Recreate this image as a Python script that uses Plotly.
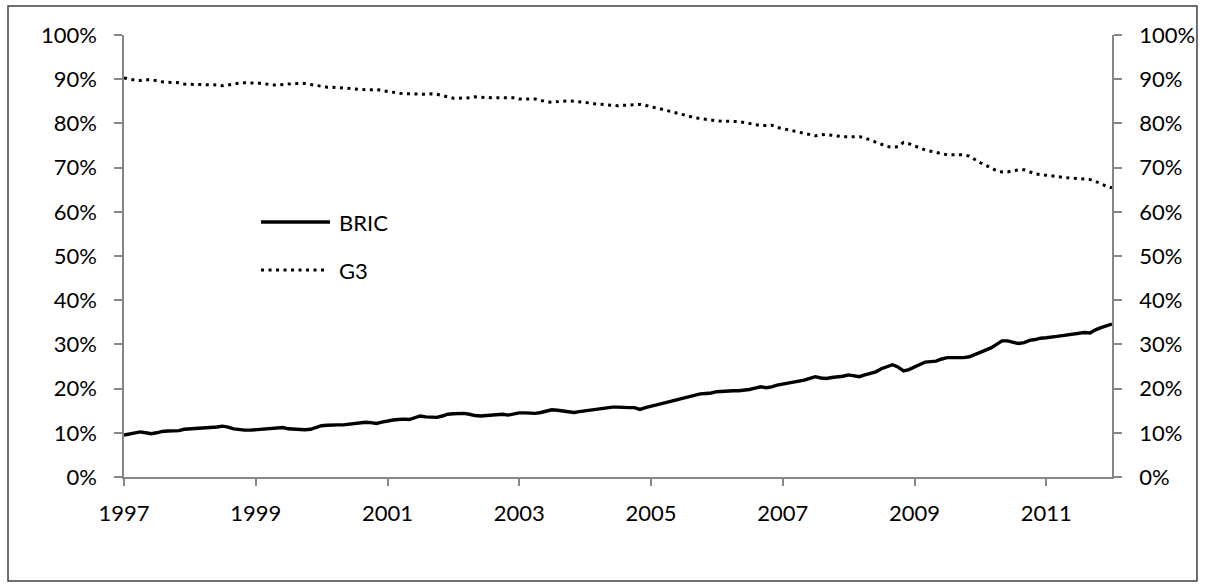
import pandas as pd
import plotly.graph_objects as go

# Monthly observations, Jan 1997 .. Jan 2012 (share of total, %)
start_month = "1997-01-01"
n_months = 181

bric = [
    9.5, 9.8, 10.0, 10.2, 10.0, 9.8, 10.0, 10.3, 10.4, 10.4, 10.5, 10.8,
    10.9, 10.85, 10.9, 11.0, 11.1, 11.3, 11.5, 11.3, 10.9, 10.7, 10.6, 10.6,
    10.7, 10.8, 10.9, 11.0, 11.1, 11.2, 10.9, 10.8, 10.7, 10.7, 10.8, 11.2,
    11.6, 11.7, 11.8, 11.8, 11.8, 12.0, 12.1, 12.3, 12.4, 12.3, 12.1, 12.4,
    12.7, 12.9, 13.0, 13.1, 13.0, 13.5, 13.8, 13.6, 13.5, 13.5, 13.8, 14.2,
    14.3, 14.3, 14.4, 14.2, 13.9, 13.8, 13.9, 14.1, 14.2, 14.2, 14.0, 14.2,
    14.5, 14.5, 14.4, 14.4, 14.6, 14.9, 15.2, 15.1, 14.9, 14.8, 14.6, 14.8,
    15.0, 15.2, 15.4, 15.5, 15.7, 15.8, 15.8, 15.7, 15.7, 15.7, 15.3, 15.7,
    16.1, 16.3, 16.6, 16.9, 17.2, 17.6, 17.9, 18.1, 18.5, 18.8, 18.9, 19.0,
    19.3, 19.4, 19.5, 19.5, 19.5, 19.6, 19.8, 20.1, 20.4, 20.2, 20.4, 20.8,
    21.0, 21.3, 21.4, 21.6, 21.9, 22.3, 22.7, 22.4, 22.3, 22.5, 22.6, 22.8,
    23.1, 22.9, 22.7, 23.1, 23.5, 23.8, 24.5, 25.0, 25.4, 24.9, 24.0, 24.3,
    24.9, 25.5, 26.0, 26.1, 26.2, 26.7, 27.0, 27.0, 27.0, 27.0, 27.2, 27.7,
    28.3, 28.8, 29.2, 30.0, 30.8, 30.8, 30.5, 30.2, 30.4, 30.9, 31.1, 31.4,
    31.5, 31.6, 31.8, 32.0, 32.2, 32.4, 32.5, 32.7, 32.6, 33.3, 33.8, 34.2,
    34.6,
]

g3 = [
    90.3, 90.0, 89.8, 89.7, 89.9, 89.9, 89.6, 89.4, 89.3, 89.3, 89.2, 88.9,
    88.8, 88.8, 88.8, 88.8, 88.8, 88.7, 88.5, 88.7, 89.0, 89.1, 89.2, 89.1,
    89.1, 89.1, 88.9, 88.7, 88.7, 88.8, 89.0, 89.0, 89.0, 89.0, 88.8, 88.6,
    88.3, 88.2, 88.2, 88.1, 88.0, 87.8, 87.7, 87.6, 87.6, 87.6, 87.7, 87.4,
    87.2, 87.1, 86.9, 86.7, 86.7, 86.6, 86.6, 86.6, 86.7, 86.6, 86.3, 85.9,
    85.7, 85.7, 85.7, 85.8, 86.0, 85.9, 85.9, 85.8, 85.8, 85.8, 85.8, 85.8,
    85.5, 85.5, 85.5, 85.5, 85.2, 84.9, 84.8, 84.9, 85.0, 85.1, 85.0, 84.9,
    84.8, 84.6, 84.4, 84.3, 84.2, 84.0, 84.0, 84.1, 84.2, 84.3, 84.3, 84.1,
    83.7, 83.5, 83.2, 82.8, 82.6, 82.2, 81.9, 81.6, 81.3, 81.1, 80.9, 80.8,
    80.6, 80.5, 80.5, 80.5, 80.4, 80.2, 80.0, 79.7, 79.5, 79.5, 79.6, 79.1,
    78.8, 78.5, 78.3, 78.1, 77.8, 77.5, 77.2, 77.4, 77.5, 77.3, 77.1, 77.0,
    77.0, 77.0, 77.0, 76.7, 76.2, 75.8, 75.2, 74.8, 74.6, 74.7, 75.7, 75.4,
    74.9, 74.4, 74.0, 73.7, 73.4, 73.1, 72.9, 72.9, 72.9, 72.9, 72.6, 71.8,
    71.1, 70.5, 70.0, 69.3, 69.0, 69.0, 69.3, 69.5, 69.5, 69.0, 68.6, 68.4,
    68.3, 68.2, 68.0, 67.8, 67.7, 67.5, 67.4, 67.3, 67.3, 66.9, 66.3, 65.8,
    65.4,
]

series_names = ["BRIC", "G3"]
y_ticks = [0, 10, 20, 30, 40, 50, 60, 70, 80, 90, 100]
y_tick_labels = [f"{v}%" for v in y_ticks]

dates = pd.date_range(start_month, periods=n_months, freq="MS")

FONT = "Lato"
AX = "#868686"
FS = 22

fig = go.Figure()
fig.add_trace(go.Scatter(x=dates, y=bric, mode="lines", name=series_names[0],
                         line=dict(color="black", width=3.4), yaxis="y"))
fig.add_trace(go.Scatter(x=dates, y=g3, mode="lines", name=series_names[1],
                         line=dict(color="black", width=3, dash="3px,4.5px"),
                         yaxis="y2"))

axis_common = dict(range=[0, 100], tickvals=y_ticks, ticktext=y_tick_labels,
                   ticks="outside", ticklen=8, tickwidth=1.5, tickcolor=AX,
                   showline=True, linecolor=AX, linewidth=1.5, showgrid=False,
                   zeroline=False, ticklabelstandoff=13,
                   tickfont=dict(family=FONT, size=FS, color="black"))

fig.update_layout(
    width=1207, height=584,
    margin=dict(l=124, r=95, t=35, b=107),
    paper_bgcolor="white", plot_bgcolor="white",
    showlegend=False,
    xaxis=dict(type="date", range=[dates[0], dates[-1]], tick0=start_month,
               dtick="M24", tickformat="%Y", ticks="outside", ticklen=7,
               tickwidth=1.5, tickcolor=AX, showline=True, linecolor=AX,
               linewidth=1.5, showgrid=False, zeroline=False,
               ticklabelstandoff=9,
               tickfont=dict(family=FONT, size=FS, color="black")),
    yaxis=dict(side="left", **axis_common),
    yaxis2=dict(side="right", overlaying="y", anchor="x", **axis_common),
)

# outer chart border (Excel chart area)
fig.add_shape(type="rect", xref="paper", yref="paper",
              x0=-0.1174, x1=1.086, y0=-0.2353, y1=1.0656,
              line=dict(color="#404040", width=1.5), fillcolor="rgba(0,0,0,0)",
              layer="below")

# in-plot legend
legend_rows = [(series_names[0], 0.5769, dict(color="black", width=3.4), 0.2085),
               (series_names[1], 0.4683, dict(color="black", width=3, dash="3px,4.5px"), 0.2034)]
for name, yy, ln, xend in legend_rows:
    fig.add_shape(type="line", xref="paper", yref="paper",
                  x0=0.1387, x1=xend, y0=yy, y1=yy, line=ln)
    fig.add_annotation(xref="paper", yref="paper", x=0.2156, y=yy,
                       text=name, showarrow=False, xanchor="left",
                       yanchor="middle",
                       font=dict(family=FONT, size=FS, color="black"))

fig.write_html("out.html", config={"displayModeBar": False},
               post_script="document.body.style.margin='0';document.body.style.padding='0';")
